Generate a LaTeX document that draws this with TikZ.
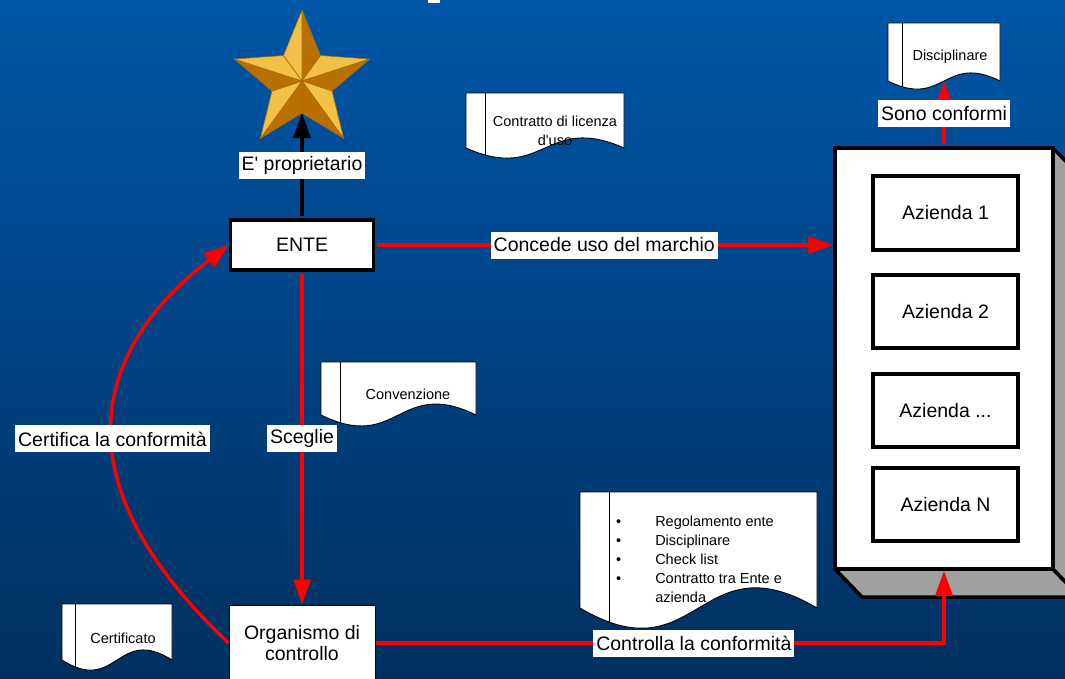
\documentclass[tikz,border=0pt]{standalone}
\usepackage{fontspec}
\setmainfont{Liberation Sans}[Ligatures=TeXOff]
\usetikzlibrary{arrows.meta}
\definecolor{bgtop}{RGB}{0,86,168}
\definecolor{bgbot}{RGB}{0,48,96}
\definecolor{starlight}{RGB}{243,192,70}
\definecolor{stardark}{RGB}{184,112,0}
\definecolor{staredge}{RGB}{170,105,10}
\definecolor{sidegray}{RGB}{160,160,160}
\definecolor{arrred}{RGB}{255,0,0}
\newcommand{\docpathcmd}[5]{(#1,#2) -- (#3,#2) -- (#3,#4) .. controls ({(#1+#3)/2},{#4-#5}) and ({(#1+#3)/2},{#4+#5}) .. (#1,#4) -- cycle}
\newcommand{\docshape}[6]{%
  \fill[white] \docpathcmd{#1}{#2}{#3}{#4}{#5};
  \begin{scope}
    \clip \docpathcmd{#1}{#2}{#3}{#4}{#5};
    \draw[line width=0.9pt] (#6,#2) -- (#6,{#4+#5});
  \end{scope}
  \draw[line width=0.9pt, line join=round] \docpathcmd{#1}{#2}{#3}{#4}{#5};
}
\begin{document}
\begin{tikzpicture}[x=1pt,y=-1pt,
  lbl/.style={fill=white, inner xsep=3pt, inner ysep=0pt, minimum height=27pt, font=\fontsize{19.5}{23}\selectfont, text=black},
  boxthick/.style={draw=black, fill=white, line width=3.5pt, font=\fontsize{19.5}{23}\selectfont, align=center},
  boxthin/.style={draw=black, fill=white, line width=1pt, font=\fontsize{19.5}{21}\selectfont, align=center},
  redarrow/.style={draw=arrred, line width=3.5pt, -{Triangle[length=25pt,width=17pt]}},
  blackarrow/.style={draw=black, line width=3.5pt, -{Triangle[length=25pt,width=17pt]}},
  doctext/.style={font=\fontsize{14.5}{19}\selectfont, align=center, inner sep=0pt},
  facetL/.style={fill=starlight, draw=staredge, line width=0.6pt, line join=round},
  facetD/.style={fill=stardark, draw=staredge, line width=0.6pt, line join=round},
]
\useasboundingbox (0,0) rectangle (1065,678);
\clip (0,0) rectangle (1065,678);
\shade[top color=bgtop, bottom color=bgbot] (0,0) rectangle (1065,678);
\fill[white] (428,0) rectangle (440,3);

% documents
\docshape{466}{93}{624}{148}{35}{485}
\node[doctext] (doc1) at (555,131) {Contratto di licenza\\d'uso};
\docshape{888}{23}{1000}{81}{28}{902}
\node[doctext] (doc2) at (950,57) {Disciplinare};
\coordinate (discbot) at (944,81);
\docshape{321}{362}{476}{415}{38}{340}
\node[doctext] (doc3) at (408,394) {Convenzione};
\docshape{62}{604}{172}{660}{35}{75}
\node[doctext] (doc4) at (123,638) {Certificato};
\docshape{580}{492}{817}{608}{70}{609}
\node[anchor=west, inner sep=0pt, font=\fontsize{14.5}{19}\selectfont] (doc5) at (616,560.5)
 {\begin{tabular}{@{}l@{\hspace{34pt}}l@{}}
  •& Regolamento ente\\
  •& Disciplinare\\
  •& Check list\\
  •& Contratto tra Ente e\\
   & azienda
 \end{tabular}};

% star
\coordinate (sc) at (302,81);
\coordinate (t0) at (302,10);
\coordinate (i1) at (320.5,55.5);
\coordinate (t1) at (369.5,59.1);
\coordinate (i2) at (332,91);
\coordinate (t2) at (343.7,138.4);
\coordinate (i3) at (302,113);
\coordinate (t3) at (260.3,138.4);
\coordinate (i4) at (272,91);
\coordinate (t4) at (234.5,59.1);
\coordinate (i5) at (283.5,55.5);
\path[facetD] (sc) -- (t0) -- (i1) -- cycle;
\path[facetL] (sc) -- (i1) -- (t1) -- cycle;
\path[facetD] (sc) -- (t1) -- (i2) -- cycle;
\path[facetL] (sc) -- (i2) -- (t2) -- cycle;
\path[facetD] (sc) -- (t2) -- (i3) -- cycle;
\path[facetD] (sc) -- (i3) -- (t3) -- cycle;
\path[facetL] (sc) -- (t3) -- (i4) -- cycle;
\path[facetD] (sc) -- (i4) -- (t4) -- cycle;
\path[facetL] (sc) -- (t4) -- (i5) -- cycle;
\path[facetL] (sc) -- (i5) -- (t0) -- cycle;

% 3D container
\filldraw[fill=sidegray, draw=black, line width=3.5pt, line join=round] (835,569) -- (1053,569) -- (1080,597) -- (862,597) -- cycle;
\filldraw[fill=sidegray, draw=black, line width=3.5pt, line join=round] (1053,148) -- (1080,176) -- (1080,597) -- (1053,569) -- cycle;
\node[draw=black, fill=white, line width=3.5pt, minimum width=218pt, minimum height=421pt, inner sep=0pt] (cont) at (944,358.5) {};
\node[boxthick, minimum width=145pt, minimum height=74pt, inner sep=0pt] (az1) at (945.5,213) {Azienda 1};
\node[boxthick, minimum width=145pt, minimum height=73pt, inner sep=0pt] (az2) at (945.5,311.5) {Azienda 2};
\node[boxthick, minimum width=145pt, minimum height=73pt, inner sep=0pt] (az3) at (945.5,410.5) {Azienda ...};
\node[boxthick, minimum width=145pt, minimum height=73pt, inner sep=0pt] (az4) at (945.5,504.5) {Azienda N};

% main boxes
\node[boxthick, minimum width=143pt, minimum height=50pt, inner sep=0pt] (ente) at (302,245) {ENTE};
\node[boxthin, minimum width=146pt, minimum height=76pt, inner sep=0pt] (org) at (302,643) {Organismo di\\controllo};

% connectors
\draw[blackarrow, shorten <=2pt] (ente.north) -- node[lbl]{E' proprietario} (i3);
\draw[redarrow, shorten <=2pt] (ente.east) -- node[lbl]{Concede uso del marchio} (ente.east -| cont.west);
\draw[redarrow, shorten <=2pt] (ente.south) -- node[lbl]{Sceglie} (org.north);
\draw[redarrow] (org.west) .. controls (45,470) and (105,340) .. node[lbl, pos=0.44]{Certifica la conformità} (ente.west);
\draw[redarrow] (org.east) -- node[lbl, pos=0.56]{Controlla la conformità} (cont.south |- org.east) -- (cont.south);
\draw[redarrow, shorten <=2pt] (cont.north) -- node[lbl]{Sono conformi} (discbot);
\end{tikzpicture}
\end{document}
